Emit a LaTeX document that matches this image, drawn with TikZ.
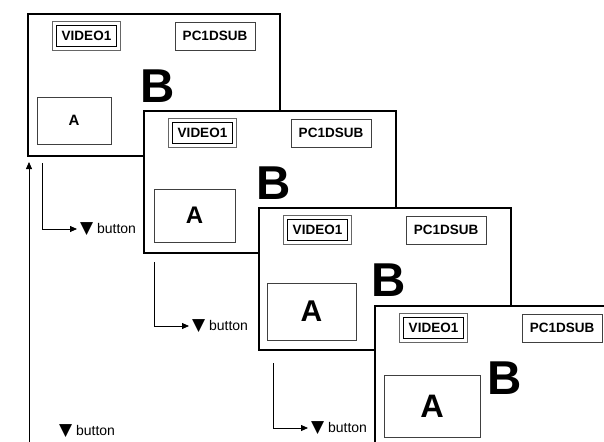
\documentclass[tikz,border=0pt]{standalone}
\usepackage{fontspec}
\setmainfont{Liberation Sans}
\newfontfamily\symfont{DejaVu Sans}
\usetikzlibrary{calc,arrows.meta}
\tikzset{
 screen/.style={draw=black, line width=1.6pt, fill=white, minimum width=252pt, minimum height=142pt, inner sep=0pt, anchor=north west},
 vidin/.style={draw=black, line width=1.3pt, minimum width=60pt, minimum height=21pt, inner sep=0pt, font=\bfseries\fontsize{13.5}{14}\selectfont},
 vidout/.style={draw=black!60, line width=0.7pt},
 pcbox/.style={draw=black!75, line width=0.8pt, minimum width=80pt, minimum height=28pt, inner sep=0pt, font=\bfseries\fontsize{13.5}{14}\selectfont},
 bigB/.style={font=\bfseries\fontsize{47.5}{48}\selectfont, inner sep=0pt},
 abox/.style={draw=black!75, line width=0.8pt, inner sep=0pt},
 btn/.style={anchor=west, inner sep=0pt, outer sep=3pt, font=\fontsize{14}{14}\selectfont},
 conn/.style={line width=0.8pt, -{Triangle[length=7pt,width=6pt]}},
}
% #1 name, #2 X, #3 Y, #4 A-box centre x, #5 A-box centre y, #6 width, #7 height, #8 A size
\newcommand\drawscreen[8]{%
 \node[screen] (#1) at (#2,#3) {};
 \node[vidin] (#1v) at (#2+59.5,#3+23) {VIDEO1};
 \draw[vidout] ($(#1v.north west)+(-3.5,-3.5)$) rectangle ($(#1v.south east)+(3.5,3.5)$);
 \node[pcbox] (#1p) at (#2+188,#3+23) {PC1DSUB};
 \node[bigB] (#1b) at (#2+130.5,#3+73) {B};
 \node[abox, minimum width=#6pt, minimum height=#7pt, font=\bfseries\fontsize{#8}{#8}\selectfont] (#1a) at (#2+#4,#3+#5) {A};
}
\newcommand\btntext{{\symfont\fontsize{17}{17}\selectfont ▼}\hspace{4pt}button}
\begin{document}
\begin{tikzpicture}[x=1pt,y=-1pt]
\useasboundingbox (0,0) rectangle (604,441);
\clip (0,0) rectangle (604,441);
\drawscreen{s1}{27}{13}{47}{107.5}{74}{47}{15}
\drawscreen{s2}{143}{110}{51.5}{105.5}{81}{53}{24}
\drawscreen{s3}{258}{207}{53.5}{104.5}{89}{57}{30}
\drawscreen{s4}{374}{305}{58}{101}{96}{62}{32.5}
\node[btn] (b1) at (77,229) {\btntext};
\node[btn] (b2) at (189,326) {\btntext};
\node[btn] (b3) at (308,428) {\btntext};
\node[btn] (b4) at (56,431) {\btntext};
\coordinate (t1) at (42,163);
\coordinate (t2) at (154,262);
\coordinate (t3) at (273,363);
\coordinate (l0) at (29,445);
\coordinate (l1) at (29,162);
\draw[conn] (t1) |- (b1);
\draw[conn] (t2) |- (b2);
\draw[conn] (t3) |- (b3);
\draw[conn] (l0) -- (l1);
\end{tikzpicture}
\end{document}
